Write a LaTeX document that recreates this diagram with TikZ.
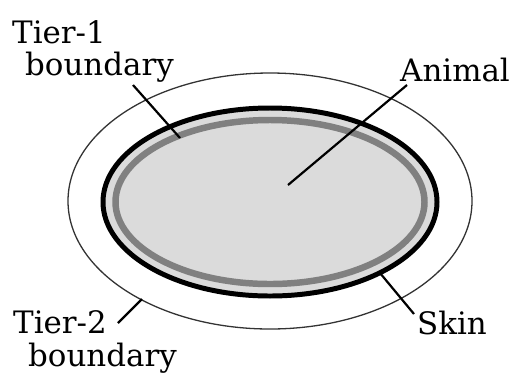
\documentclass[tikz,border=0pt]{standalone}
\usepackage{fontspec}
\setmainfont{DejaVu Serif}
\definecolor{animalfill}{gray}{0.86}
\definecolor{bandgray}{gray}{0.5}
\tikzset{lbl/.style={anchor=base west,inner sep=0pt,font=\fontsize{31}{34}\selectfont},
 leader/.style={line width=2.2pt}}
\begin{document}
\begin{tikzpicture}[x=1bp,y=-1bp]
 \useasboundingbox (0,0) rectangle (520,372);
 % tier-2 boundary
 \draw[black!80,line width=1.3pt] (270,201) ellipse [x radius=202,y radius=128];
 % animal, skin and tier-1 boundary
 \fill[animalfill] (270,202) ellipse [x radius=167,y radius=94];
 \draw[bandgray,line width=6.5pt] (270,202) ellipse [x radius=154.5,y radius=82];
 \draw[line width=5pt] (270,202) ellipse [x radius=167,y radius=94];
 \node[lbl] (t1) at (12,43) {Tier-1};
 \node[lbl] (t1b) at (25,75) {boundary};
 \node[lbl] (an) at (400,81) {Animal};
 \node[lbl] (t2) at (13,333) {Tier-2};
 \node[lbl] (t2b) at (28,366) {boundary};
 \node[lbl] (sk) at (417,334) {Skin};
 \coordinate (t1a) at (133,85);  \coordinate (t1z) at (180,138);
 \coordinate (ana) at (407,85);  \coordinate (anz) at (288,185);
 \coordinate (t2a) at (118,323); \coordinate (t2z) at (142,299);
 \coordinate (ska) at (414,314); \coordinate (skz) at (380,273);
 \foreach \a/\b in {t1a/t1z,ana/anz,t2a/t2z,ska/skz} \draw[leader] (\a)--(\b);
\end{tikzpicture}
\end{document}
